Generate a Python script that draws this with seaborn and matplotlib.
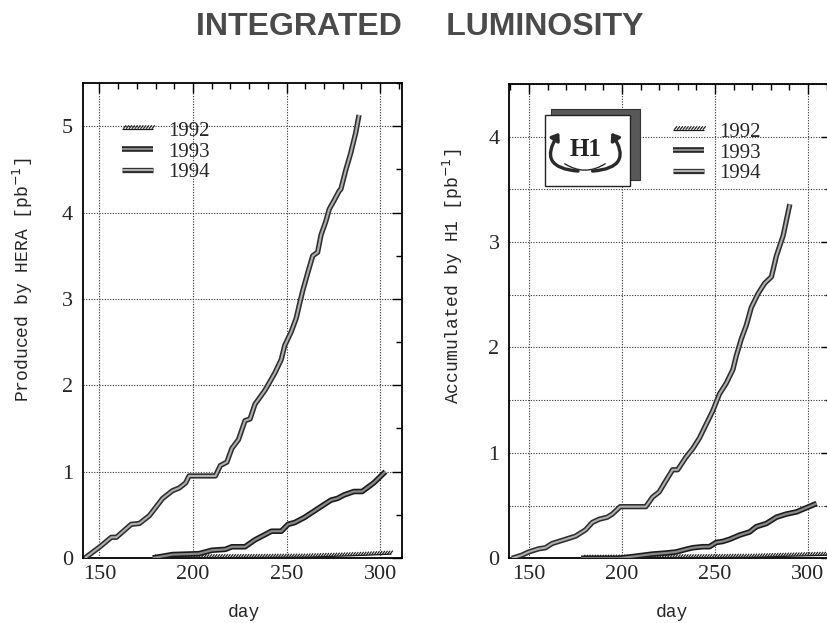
import numpy as np
import pandas as pd
import seaborn as sns
import matplotlib
matplotlib.use("Agg")
import matplotlib.pyplot as plt
from matplotlib import patheffects as pe
from matplotlib.patches import Rectangle, FancyArrowPatch
from matplotlib.ticker import MultipleLocator, FormatStrFormatter

# ---- luminosity delivered by HERA [pb^-1] vs day of year ----
hera_1992_day = [178, 230, 260, 276, 290, 306]
hera_1992_lumi = [0.0, 0.005, 0.01, 0.02, 0.03, 0.045]

hera_1993_day = [178.5, 189.1, 203.2, 210.2, 217.3, 220.8, 227.8, 233.1, 238.4, 241.9,
                 247.2, 250.8, 254.3, 259.6, 266.6, 273.7, 277.2, 280.7, 286.0, 290.4,
                 296.6, 302.8]
hera_1993_lumi = [0.0, 0.04, 0.05, 0.09, 0.10, 0.13, 0.13, 0.21, 0.27, 0.31,
                  0.31, 0.39, 0.41, 0.47, 0.57, 0.67, 0.69, 0.73, 0.77, 0.77,
                  0.87, 1.00]

hera_1994_day = [142.3, 150.3, 156.4, 159.1, 167.0, 171.4, 176.7, 183.8, 189.1, 192.6,
                 196.1, 197.9, 212.0, 214.6, 218.1, 220.8, 224.3, 227.8, 230.5, 233.1,
                 238.4, 243.7, 247.2, 249.0, 252.5, 255.2, 256.9, 258.7, 261.3, 264.0,
                 266.6, 268.4, 271.0, 272.8, 275.4, 278.1, 279.0, 281.6, 284.3, 287.0,
                 288.7]
hera_1994_lumi = [0.0, 0.13, 0.24, 0.24, 0.39, 0.40, 0.49, 0.69, 0.78, 0.81,
                  0.87, 0.95, 0.95, 1.07, 1.11, 1.27, 1.37, 1.59, 1.61, 1.78,
                  1.94, 2.14, 2.30, 2.46, 2.62, 2.78, 2.94, 3.10, 3.30, 3.50,
                  3.54, 3.74, 3.90, 4.04, 4.14, 4.25, 4.27, 4.49, 4.69, 4.93,
                  5.13]

# ---- luminosity accumulated by H1 [pb^-1] vs day of year ----
h1_1992_day = [178, 240, 270, 290, 313]
h1_1992_lumi = [0.0, 0.005, 0.01, 0.02, 0.03]

h1_1993_day = [178, 198.4, 216.4, 223.6, 229.0, 234.4, 238.0, 243.4, 247.0, 250.6,
               254.2, 257.8, 263.2, 268.6, 272.2, 277.6, 283.0, 288.4, 293.8, 299.2,
               304.6]
h1_1993_lumi = [0.0, 0.0, 0.04, 0.05, 0.06, 0.085, 0.10, 0.11, 0.11, 0.15,
                0.16, 0.18, 0.22, 0.25, 0.30, 0.33, 0.39, 0.42, 0.44, 0.48,
                0.52]

h1_1994_day = [140.8, 146.2, 149.8, 155.2, 158.8, 162.4, 166.0, 171.4, 175.0, 180.4,
               184.0, 187.6, 192.1, 194.8, 199.0, 212.8, 216.4, 220.0, 222.7, 227.2,
               229.9, 234.4, 238.0, 241.6, 245.2, 248.8, 252.4, 256.0, 259.6, 261.4,
               264.1, 266.8, 269.5, 273.1, 276.7, 280.3, 283.0, 286.6, 290.2]
h1_1994_lumi = [0.0, 0.03, 0.06, 0.09, 0.10, 0.14, 0.16, 0.19, 0.21, 0.27,
                0.34, 0.37, 0.39, 0.42, 0.49, 0.49, 0.58, 0.63, 0.71, 0.84,
                0.84, 0.96, 1.04, 1.14, 1.27, 1.40, 1.56, 1.66, 1.79, 1.92,
                2.08, 2.21, 2.38, 2.51, 2.61, 2.67, 2.87, 3.06, 3.36]

years = ["1992", "1993", "1994"]

sns.set_style("white")
plt.rcParams["font.family"] = ["Liberation Serif", "DejaVu Serif"]
plt.rcParams["axes.linewidth"] = 1.3

MONO = ["Liberation Mono", "DejaVu Sans Mono"]
INK = "#1c1c1c"

fig = plt.figure(figsize=(8.27, 6.23), dpi=100)
ax_l = fig.add_axes([0.1, 1 - 558 / 623, 319 / 827, 475 / 623])
ax_r = fig.add_axes([509.3 / 827, 1 - 558.3 / 623, 322 / 827, 474.3 / 623])


def style_for(year):
    if year == "1992":
        return dict(color=INK, lw=0.9,
                    fx=[pe.withTickedStroke(angle=50, spacing=1.9, length=1.7,
                                            linewidth=0.9, foreground="#222222")])
    if year == "1993":
        return dict(color="#8a8a8a", lw=1.6,
                    fx=[pe.Stroke(linewidth=4.0, foreground=INK), pe.Normal()])
    return dict(color="#b0b0b0", lw=1.5,
                fx=[pe.Stroke(linewidth=3.8, foreground="#2e2e2e"), pe.Normal()])


def draw(ax, series):
    handles = []
    for year, (d, v) in zip(years, series):
        frame = pd.DataFrame({"day": d, "lumi": v})
        st = style_for(year)
        sns.lineplot(data=frame, x="day", y="lumi", ax=ax, color=st["color"],
                     lw=st["lw"], sort=False, estimator=None, legend=False,
                     zorder=3)
        line = ax.lines[-1]
        line.set_path_effects(st["fx"])
        line.set_label(year)
        line.set_solid_capstyle("butt")
        handles.append(line)
    return handles


h_l = draw(ax_l, [(hera_1992_day, hera_1992_lumi),
                  (hera_1993_day, hera_1993_lumi),
                  (hera_1994_day, hera_1994_lumi)])
h_r = draw(ax_r, [(h1_1992_day, h1_1992_lumi),
                  (h1_1993_day, h1_1993_lumi),
                  (h1_1994_day, h1_1994_lumi)])

grid_kw = dict(ls=(0, (1, 1.4)), lw=0.8, color="#333333")

for ax, xlim, ylim in [(ax_l, (141.1, 311.5), (0, 5.5)),
                       (ax_r, (139.4, 312.5), (0, 4.5))]:
    ax.set_xlim(*xlim)
    ax.set_ylim(*ylim)
    ax.xaxis.set_major_locator(MultipleLocator(50))
    ax.xaxis.set_minor_locator(MultipleLocator(10))
    ax.yaxis.set_major_locator(MultipleLocator(1))
    ax.yaxis.set_minor_locator(MultipleLocator(0.5))
    ax.yaxis.set_major_formatter(FormatStrFormatter("%d"))
    ax.xaxis.set_major_formatter(FormatStrFormatter("%d"))
    ax.tick_params(which="both", direction="in", top=True, right=True,
                   color="black", labelsize=16)
    ax.tick_params(which="major", length=7.5, width=1.0)
    ax.tick_params(which="minor", length=4.3, width=1.0)
    ax.tick_params(axis="x", pad=5)
    ax.tick_params(axis="y", pad=7)
    ax.grid(True, which="major", **grid_kw)
    for s in ax.spines.values():
        s.set_color("black")
        s.set_linewidth(1.3)
    ax.set_xlabel("day", family=MONO, fontsize=13, va="top")
    ax.xaxis.set_label_coords(0.505, -0.097)

ax_r.yaxis.grid(True, which="minor", **grid_kw)

ax_l.set_ylabel("Produced by HERA [pb$^{-1}$]", family=MONO, fontsize=13)
ax_l.yaxis.set_label_coords(-0.15, 0.585)
ax_r.set_ylabel("Accumulated by H1 [pb$^{-1}$]", family=MONO, fontsize=13)
ax_r.yaxis.set_label_coords(-0.138, 0.595)

leg_kw = dict(loc="upper left", frameon=False, fontsize=15, borderpad=0,
              handlelength=1.5, handletextpad=0.74, labelspacing=0.05,
              borderaxespad=0)
ax_l.legend(handles=h_l, bbox_to_anchor=(0.123, 0.919), **leg_kw)
ax_r.legend(handles=h_r, bbox_to_anchor=(0.508, 0.919), **leg_kw)

# ---- H1 emblem in the right panel ----
tr = ax_r.transAxes
ax_r.add_patch(Rectangle((0.129, 0.797), 0.277, 0.150, transform=tr,
                         facecolor="#595959", edgecolor="#333333", lw=0.8,
                         zorder=6, clip_on=False))
ax_r.add_patch(Rectangle((0.111, 0.785), 0.264, 0.150, transform=tr,
                         facecolor="white", edgecolor="#222222", lw=1.0,
                         zorder=7, clip_on=False))
ax_r.text(0.236, 0.862, "H1", transform=tr, ha="center", va="center",
          fontsize=18, fontweight="bold", family=["Liberation Serif"],
          color="#222222", zorder=9)
for start, end, rad in [((0.222, 0.816), (0.160, 0.902), -0.9),
                        ((0.250, 0.816), (0.312, 0.902), 0.9)]:
    ax_r.add_patch(FancyArrowPatch(start, end, transform=tr,
                                   connectionstyle=f"arc3,rad={rad}",
                                   arrowstyle="-|>,head_length=4,head_width=3",
                                   lw=2.4, color="#2a2a2a", zorder=8))
ax_r.add_patch(FancyArrowPatch((0.165, 0.835), (0.305, 0.835), transform=tr,
                               connectionstyle="arc3,rad=0.35",
                               arrowstyle="-", lw=1.0, color="#2a2a2a", zorder=8))

fig.text(0.508, 1 - 35 / 623, "INTEGRATED     LUMINOSITY", ha="center",
         va="baseline", fontsize=23, fontweight="bold",
         family=["Liberation Sans", "DejaVu Sans"], color="#4a4a4a")

fig.savefig("out.png", dpi=100, facecolor="white")
